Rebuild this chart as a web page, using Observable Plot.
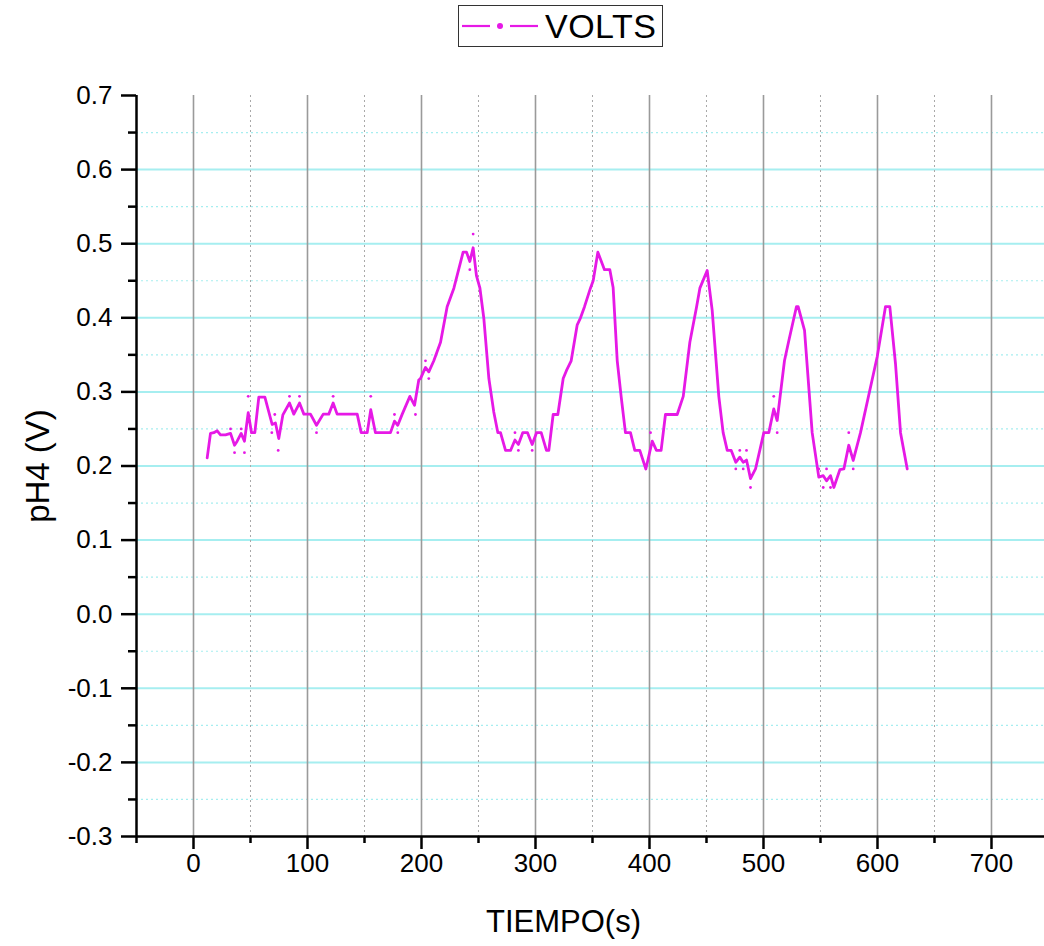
<!DOCTYPE html>
<html><head><meta charset="utf-8">
<script src="https://cdn.jsdelivr.net/npm/d3@7"></script>
<script src="https://cdn.jsdelivr.net/npm/@observablehq/plot@0.6"></script>
<style>
body{margin:0;background:#fff;font-family:"Liberation Sans",Arial,sans-serif;}
#wrap{position:relative;width:1044px;}
#legend{position:relative;height:60px;}
#legbox{position:absolute;left:458px;top:5px;width:205px;height:42px;border:1.5px solid #333;box-sizing:border-box;display:flex;align-items:center;}
#legbox span{font-size:34px;color:#000;line-height:1;letter-spacing:0.5px;}
</style></head><body>
<div id="wrap">
  <div id="legend"><div id="legbox">
    <svg width="86" height="20" style="flex:none">
      <line x1="3" y1="10" x2="31" y2="10" stroke="#e619e6" stroke-width="2.2"/>
      <circle cx="41" cy="10" r="3" fill="#e619e6"/>
      <line x1="51" y1="10" x2="79" y2="10" stroke="#e619e6" stroke-width="2.2"/>
    </svg><span>VOLTS</span>
  </div></div>
  <div id="chart"></div>
</div>
<script>
// ---- data ----
const times = [12.0,14.9,17.8,20.8,23.7,28.1,32.5,36.0,38.3,41.8,44.7,48.0,50.9,53.8,57.3,62.6,69.0,71.9,74.8,78.4,84.2,88.0,93.0,96.8,102.6,107.9,113.8,118.7,122.5,126.0,143.6,147.1,152.4,155.5,159.6,172.8,176.3,179.2,183.1,189.8,193.9,197.6,199.1,203.5,206.4,210.8,216.7,222.5,228.4,236.5,239.5,242.4,245.3,248.2,251.2,254.7,259.1,263.4,267.0,269.3,273.7,278.1,282.0,285.0,288.8,293.0,297.1,300.9,305.0,309.6,311.7,315.5,319.6,324.3,327.2,331.3,336.6,339.5,343.0,348.2,350.6,354.7,360.5,365.2,368.1,371.7,375.2,378.9,383.3,387.1,391.5,396.8,402.4,406.1,410.2,414.0,424.3,429.6,435.4,441.2,444.2,450.6,455.0,460.8,464.6,468.2,471.7,475.7,479.2,482.2,485.1,488.6,493.0,500.3,504.7,509.0,512.0,518.4,522.2,528.9,530.4,536.0,542.7,548.5,552.4,555.3,558.8,561.7,567.0,570.5,574.8,578.7,585.1,599.7,607.0,610.8,615.8,620.2,626.1];
const volts = [0.211,0.244,0.245,0.2475,0.242,0.242,0.244,0.228,0.2335,0.244,0.2335,0.272,0.245,0.245,0.293,0.293,0.256,0.258,0.237,0.269,0.285,0.270,0.285,0.270,0.270,0.255,0.270,0.270,0.285,0.270,0.270,0.245,0.245,0.276,0.245,0.245,0.2605,0.255,0.270,0.294,0.282,0.316,0.318,0.333,0.327,0.342,0.367,0.415,0.440,0.4885,0.4885,0.476,0.4945,0.457,0.4405,0.399,0.318,0.273,0.245,0.245,0.221,0.221,0.235,0.229,0.245,0.245,0.229,0.245,0.245,0.221,0.221,0.2695,0.2695,0.318,0.329,0.342,0.3905,0.400,0.415,0.440,0.450,0.4885,0.465,0.465,0.441,0.342,0.293,0.245,0.245,0.221,0.221,0.196,0.2335,0.221,0.221,0.2695,0.2695,0.294,0.367,0.414,0.440,0.4638,0.410,0.294,0.245,0.221,0.221,0.205,0.212,0.205,0.208,0.183,0.196,0.245,0.245,0.277,0.2614,0.342,0.369,0.415,0.415,0.383,0.245,0.185,0.187,0.180,0.187,0.171,0.195,0.196,0.228,0.2075,0.245,0.347,0.415,0.415,0.338,0.245,0.196];
const dotTimes = [32.5,36.0,41.8,44.7,48.0,68.7,71.3,74.3,84.2,93.0,107.9,122.5,155.5,176.3,179.2,194.7,203.5,206.4,242.4,245.3,282.0,285.0,297.1,400.9,475.7,479.2,482.2,485.1,488.6,509.0,512.0,548.5,552.4,555.3,558.8,574.8,578.7];
const dotVolts = [0.25,0.218,0.25,0.218,0.294,0.245,0.2695,0.221,0.294,0.294,0.245,0.294,0.294,0.2695,0.245,0.2695,0.342,0.318,0.465,0.513,0.245,0.221,0.221,0.245,0.196,0.221,0.196,0.221,0.171,0.294,0.245,0.196,0.171,0.196,0.171,0.245,0.196];
const xTicks = [0,100,200,300,400,500,600,700];
const xMinorTicks = [-50,50,150,250,350,450,550,650];
const yTicks = [-0.3,-0.2,-0.1,0.0,0.1,0.2,0.3,0.4,0.5,0.6,0.7];
const yMinorTicks = [-0.25,-0.15,-0.05,0.05,0.15,0.25,0.35,0.45,0.55,0.65];
const seriesName = "VOLTS";
const xTitle = "TIEMPO(s)";
const yTitle = "pH4 (V)";

// ---- chart ----
const magenta = "#e619e6";
const cyan = "#a6eef0";
const pts = times.map((t,i)=>({t, v: volts[i]}));
const raw = dotTimes.map((t,i)=>({t, v: dotVolts[i]}));
const chart = Plot.plot({
  width: 1044, height: 886,
  marginLeft: 136, marginRight: 0, marginTop: 35, marginBottom: 110,
  x: {domain: [-50, 746.5]},
  y: {domain: [-0.3, 0.7]},
  style: {fontFamily: '"Liberation Sans", Arial, sans-serif', fontSize: "26px", color: "#000", background: "#fff", overflow: "visible"},
  marks: [
    Plot.ruleY(yMinorTicks, {stroke: cyan, strokeWidth: 1.2, strokeDasharray: "2,3"}),
    Plot.ruleY(yTicks.filter(v => v > -0.3 && v < 0.7), {stroke: cyan, strokeWidth: 2}),
    Plot.ruleX(xMinorTicks.filter(v => v > -50), {stroke: "#a8a8a8", strokeWidth: 1, strokeDasharray: "2,3"}),
    Plot.ruleX(xTicks, {stroke: "#9a9a9a", strokeWidth: 1.6}),
    Plot.line(pts, {x: "t", y: "v", stroke: magenta, strokeWidth: 2.8, strokeLinejoin: "round"}),
    Plot.dot(raw, {x: "t", y: "v", r: 1.4, fill: magenta}),
    Plot.ruleY([-0.3], {stroke: "#000", strokeWidth: 2.5}),
    Plot.ruleX([-50], {stroke: "#000", strokeWidth: 2.5}),
    Plot.axisX({ticks: xTicks, tickSize: 13, strokeWidth: 2.5, tickPadding: 4, tickFormat: d => String(d), label: null}),
    Plot.axisX({ticks: xMinorTicks, tickSize: 7, strokeWidth: 2.5, tickFormat: () => "", label: null}),
    Plot.axisY({ticks: yTicks, tickSize: 15, strokeWidth: 2.5, tickPadding: 9, tickFormat: d => d.toFixed(1), label: null}),
    Plot.axisY({ticks: yMinorTicks, tickSize: 8, strokeWidth: 2.5, tickFormat: () => "", label: null}),
    Plot.text([xTitle], {text: d => d, frameAnchor: "bottom", dx: -27, dy: 86, fontSize: 31, textAnchor: "middle", lineAnchor: "middle"}),
    Plot.text([yTitle], {text: d => d, frameAnchor: "left", dx: -98, rotate: -90, fontSize: 33, textAnchor: "middle", lineAnchor: "middle"})
  ]
});
document.getElementById("chart").appendChild(chart);
</script>
</body></html>
